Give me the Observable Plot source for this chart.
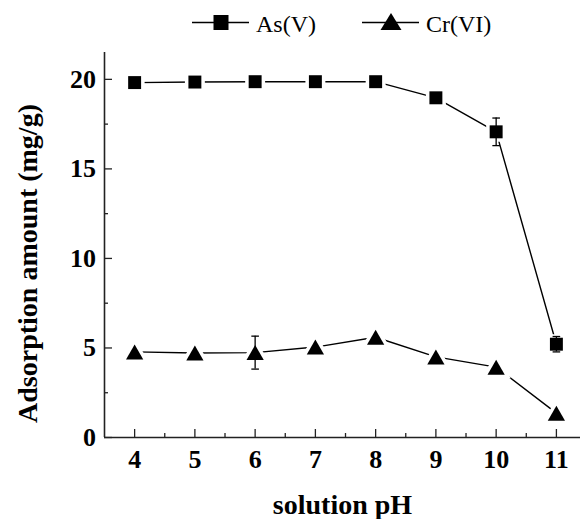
<!DOCTYPE html>
<html><head><meta charset="utf-8">
<script src="https://cdn.jsdelivr.net/npm/d3@7"></script>
<script src="https://cdn.jsdelivr.net/npm/@observablehq/plot@0.6"></script>
<style>
body{margin:0;background:#fff;font-family:"Liberation Serif","Times New Roman",serif;}
#legend{position:relative;height:44px;width:580px;}
.item{position:absolute;top:0;height:44px;display:flex;align-items:center;font-size:24px;color:#000;}
.item svg{display:block;}
.item span{position:relative;top:2px;}
</style></head><body>
<div id="legend"></div>
<div id="chart"></div>
<script>
// ---- data ----
const pH = [4, 5, 6, 7, 8, 9, 10, 11];
const asV = [19.82, 19.85, 19.87, 19.87, 19.87, 18.97, 17.07, 5.21];
const asErr = [0, 0, 0, 0, 0, 0, 0.77, 0.43];
const crVI = [4.78, 4.72, 4.74, 5.05, 5.6, 4.5, 3.93, 1.36];
const crErr = [0, 0, 0.92, 0, 0, 0, 0, 0];
const seriesNames = ["As(V)", "Cr(VI)"];
const xTicks = [4, 5, 6, 7, 8, 9, 10, 11];
const xMinor = [4.5, 5.5, 6.5, 7.5, 8.5, 9.5, 10.5];
const yTicks = [0, 5, 10, 15, 20];
const yMinor = [2.5, 7.5, 12.5, 17.5];
const xTitle = "solution pH";
const yTitle = "Adsorption amount (mg/g)";

// ---- symbols (centered on bounding box) ----
const squareSym = {draw(ctx, size){const r=Math.sqrt(size/Math.PI); const h=r*0.887; ctx.rect(-h,-h,2*h,2*h);}};
const triSym = {draw(ctx, size){const r=Math.sqrt(size/Math.PI); const w=r*1.15, h=r*1.0; ctx.moveTo(0,-h); ctx.lineTo(w,h); ctx.lineTo(-w,h); ctx.closePath();}};
const capSym = {draw(ctx, size){const r=Math.sqrt(size/Math.PI); ctx.moveTo(-r,0); ctx.lineTo(r,0);}};

const data = pH.flatMap((x, i) => [
  {pH: x, v: asV[i], err: asErr[i], s: seriesNames[0]},
  {pH: x, v: crVI[i], err: crErr[i], s: seriesNames[1]}
]);
const asData = data.filter(d => d.s === seriesNames[0]);
const crData = data.filter(d => d.s === seriesNames[1]);
const errData = data.filter(d => d.err > 0);
const caps = errData.flatMap(d => [{pH: d.pH, v: d.v - d.err}, {pH: d.pH, v: d.v + d.err}]);

const W = 580, H = 475, mL = 104, mR = 0, mT = 8, mB = 82;
const innerW = W - mL - mR, innerH = H - mT - mB;
const font = '"Liberation Serif","Times New Roman",serif';

const chart = Plot.plot({
  width: W, height: H,
  marginLeft: mL, marginRight: mR, marginTop: mT, marginBottom: mB,
  x: {domain: [3.5, 11.4], axis: null},
  y: {domain: [0, 21.5], axis: null},
  style: {fontFamily: font, background: "white", color: "black"},
  marks: [
    Plot.text(xTicks, {x: d => d, frameAnchor: "bottom", dy: 22.5, lineAnchor: "middle", textAnchor: "middle", text: d => String(d), fontSize: 26, fontWeight: "bold", fill: "black"}),
    Plot.text(yTicks, {y: d => d, frameAnchor: "left", dx: -8.5, lineAnchor: "middle", textAnchor: "end", text: d => String(d), fontSize: 26, fontWeight: "bold", fill: "black"}),
    Plot.tickX(xTicks, {x: d => d, insetTop: innerH - 8, stroke: "#222", strokeWidth: 1.3}),
    Plot.tickX(xMinor, {x: d => d, insetTop: innerH - 4, stroke: "#222", strokeWidth: 1.3}),
    Plot.tickY(yTicks, {y: d => d, insetRight: innerW - 8, stroke: "#222", strokeWidth: 1.3}),
    Plot.tickY(yMinor, {y: d => d, insetRight: innerW - 4, stroke: "#222", strokeWidth: 1.3}),
    Plot.ruleX([3.5], {stroke: "#222", strokeWidth: 1.6}),
    Plot.ruleY([0], {stroke: "#222", strokeWidth: 1.6}),
    Plot.line(data, {x: "pH", y: "v", z: "s", stroke: "black", strokeWidth: 1.4}),
    Plot.dot(asData, {x: "pH", y: "v", symbol: squareSym, r: 7.3, fill: "black", stroke: "white", strokeWidth: 7, paintOrder: "stroke"}),
    Plot.dot(crData, {x: "pH", y: "v", symbol: triSym, r: 7.5, fill: "black", stroke: "white", strokeWidth: 7, paintOrder: "stroke"}),
    Plot.ruleX(errData, {x: "pH", y1: d => d.v - d.err, y2: d => d.v + d.err, stroke: "black", strokeWidth: 1.3}),
    Plot.dot(caps, {x: "pH", y: "v", symbol: capSym, r: 3.8, fill: "none", stroke: "black", strokeWidth: 1.3}),
    Plot.text([xTitle], {frameAnchor: "bottom", dy: 68, lineAnchor: "middle", textAnchor: "middle", text: d => d, fontSize: 28, fontWeight: "bold", fill: "black"}),
    Plot.text([yTitle], {frameAnchor: "left", rotate: -90, dx: -76.6, dy: 18.5, lineAnchor: "middle", textAnchor: "middle", text: d => d, fontSize: 28, fontWeight: "bold", fill: "black"})
  ]
});
document.getElementById("chart").appendChild(chart);

// ---- legend ----
const legend = document.getElementById("legend");
const legendItems = [
  {name: seriesNames[0], left: 192, shape: "square"},
  {name: seriesNames[1], left: 362, shape: "triangle"}
];
for (const it of legendItems) {
  const div = document.createElement("div");
  div.className = "item";
  div.style.left = it.left + "px";
  const marker = it.shape === "square"
    ? '<rect x="21.5" y="5" width="15" height="15" fill="black"/>'
    : '<path d="M29 3 L39.5 20 L18.5 20 Z" fill="black"/>';
  div.innerHTML = `<svg width="57" height="24" viewBox="0 0 57 24"><line x1="0" x2="57" y1="12.5" y2="12.5" stroke="black" stroke-width="1.5"/>${marker}</svg><span style="margin-left:7px">${it.name}</span>`;
  legend.appendChild(div);
}
</script>
</body></html>
